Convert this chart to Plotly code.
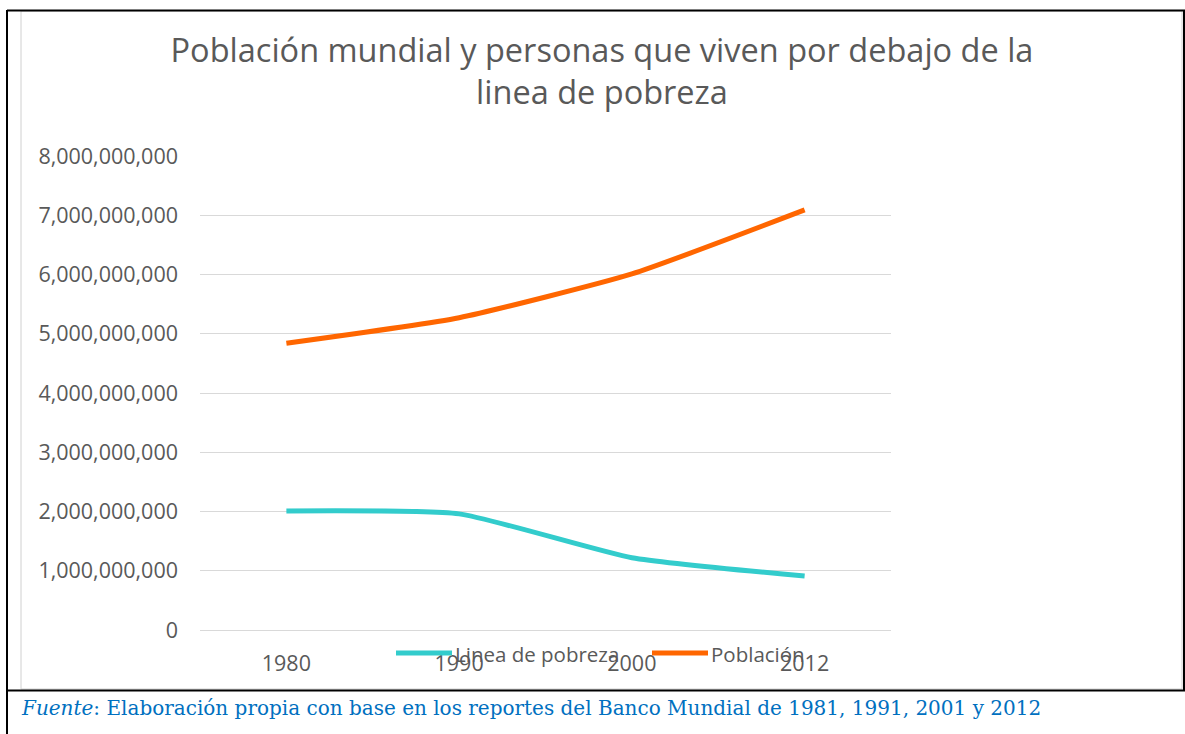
import plotly.graph_objects as go

years = ["1980", "1990", "2000", "2012"]
poblacion = [4.84e9, 5.27e9, 6.01e9, 7.09e9]
pobreza = [2.01e9, 1.96e9, 1.22e9, 0.91e9]
y_ticks = [0, 1e9, 2e9, 3e9, 4e9, 5e9, 6e9, 7e9, 8e9]
series_names = ["Linea de pobreza", "Población"]
series_colors = ["#33CCCC", "#FF6600"]

W, H = 1185, 734
def px(x): return x / W
def py(y): return 1 - y / H

fig = go.Figure()
for name, vals, col in zip(series_names, [pobreza, poblacion], series_colors):
    fig.add_trace(go.Scatter(x=years, y=vals, name=name, mode="lines", showlegend=False,
                             line=dict(color=col, width=5, shape="spline", smoothing=0.5)))

font_main = "'Open Sans', Lato, sans-serif"
fig.update_layout(
    width=W, height=H,
    margin=dict(l=0, r=0, t=0, b=0, autoexpand=False),
    paper_bgcolor="white", plot_bgcolor="white",
    font=dict(family=font_main, color="#595959", size=21),
    title=dict(text="Población mundial y personas que viven por debajo de la<br>linea de pobreza",
               x=px(602), xanchor="center", y=py(62), yanchor="top", automargin=False,
               font=dict(size=32.5, color="#595959", family=font_main)),
    xaxis=dict(domain=[px(200), px(891)], type="category", range=[-0.5, 3.5], automargin=False,
               showgrid=False, showline=False, ticks="", ticklabelstandoff=18,
               tickfont=dict(size=21.5, color="#595959")),
    yaxis=dict(domain=[py(630), py(156)], range=[0, 8e9], tickvals=y_ticks, automargin=False,
               tickformat=",", showgrid=True, gridcolor="#D9D9D9", gridwidth=1,
               zeroline=True, zerolinecolor="#D9D9D9", zerolinewidth=1,
               showline=False, ticks="", ticklabelstandoff=21,
               tickfont=dict(size=21.5, color="#595959")),
    showlegend=False,
)

shapes = [
    dict(type="rect", xref="paper", yref="paper", x0=px(21), x1=px(1182), y0=py(689), y1=py(11),
         line=dict(color="#D0D0D0", width=1)),
    dict(type="line", xref="paper", yref="paper", x0=px(7), x1=px(1185), y0=py(10.5), y1=py(10.5),
         line=dict(color="black", width=2)),
    dict(type="line", xref="paper", yref="paper", x0=px(7), x1=px(7), y0=py(10), y1=py(734),
         line=dict(color="black", width=2)),
    dict(type="line", xref="paper", yref="paper", x0=px(7), x1=px(1185), y0=py(690.5), y1=py(690.5),
         line=dict(color="black", width=2)),
    dict(type="line", xref="paper", yref="paper", x0=px(1184), x1=px(1184), y0=py(10), y1=py(690),
         line=dict(color="black", width=2)),
]
# legend keys (custom, to match the long line keys of the reference)
legend_x = [396, 652]
for i, (name, col) in enumerate(zip(series_names, series_colors)):
    shapes.append(dict(type="line", xref="paper", yref="paper",
                       x0=px(legend_x[i]), x1=px(legend_x[i] + 56), y0=py(653), y1=py(653),
                       line=dict(color=col, width=5)))
    fig.add_annotation(xref="paper", yref="paper", x=px(legend_x[i] + 57), y=py(654),
                       xanchor="left", yanchor="middle", showarrow=False, text=name,
                       font=dict(size=20.5, color="#595959", family=font_main))
fig.update_layout(shapes=shapes)

fig.add_annotation(xref="paper", yref="paper", x=px(19), y=py(708), xanchor="left", yanchor="middle",
                   showarrow=False,
                   text="<i>Fuente</i>: Elaboración propia con base en los reportes del Banco Mundial de 1981, 1991, 2001 y 2012",
                   font=dict(family="'DejaVu Serif', 'Liberation Serif', serif", size=20, color="#0070C0"))

fig.write_html("out.html", config={"displayModeBar": False},
               post_script="document.body.style.margin='0px';")
